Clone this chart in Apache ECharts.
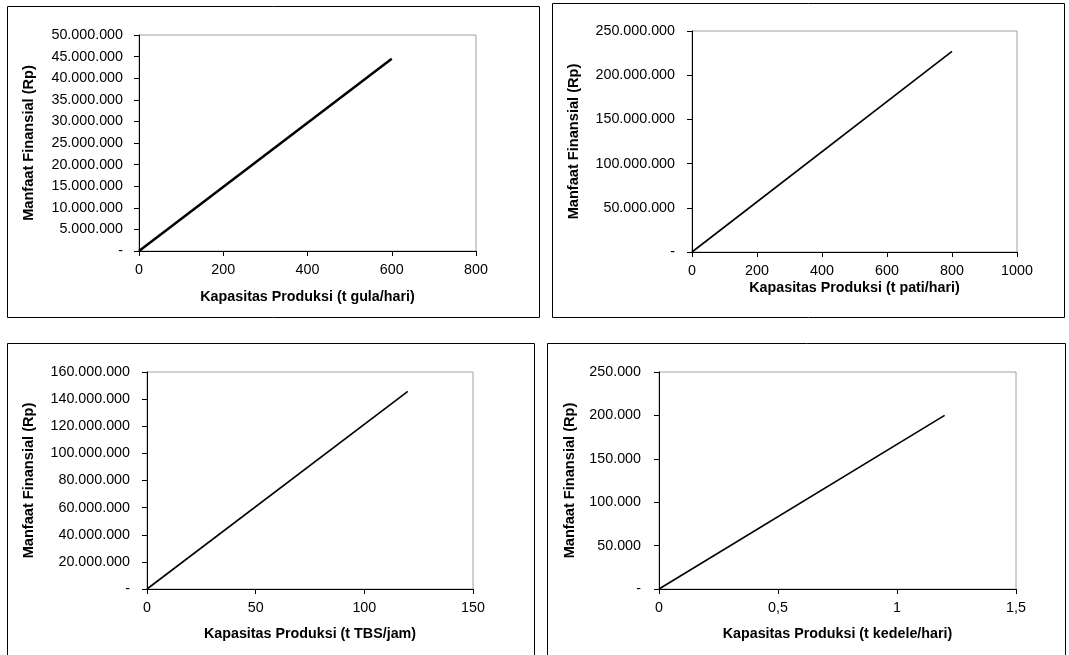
<!DOCTYPE html>
<html>
<head>
<meta charset="utf-8">
<script src="https://cdn.jsdelivr.net/npm/echarts@6/dist/echarts.min.js"></script>
<style>
html,body{margin:0;padding:0;background:#fff;}
#c{width:1069px;height:655px;}
</style>
</head>
<body>
<div id="c"></div>
<script>
// Data
const titleY = 'Manfaat Finansial (Rp)';
const xTitles = ['Kapasitas Produksi (t gula/hari)', 'Kapasitas Produksi (t pati/hari)', 'Kapasitas Produksi (t TBS/jam)', 'Kapasitas Produksi (t kedele/hari)'];
const gulaX = [0, 600];
const gulaY = [0, 44500000];
const patiX = [0, 800];
const patiY = [0, 227000000];
const tbsX = [0, 120];
const tbsY = [0, 145700000];
const kedeleX = [0, 1.2];
const kedeleY = [0, 200000];
const xMax = [800, 1000, 150, 1.5];
const xInterval = [200, 200, 50, 0.5];
const yMax = [50000000, 250000000, 160000000, 250000];
const yInterval = [5000000, 50000000, 20000000, 50000];

const seriesX = [gulaX, patiX, tbsX, kedeleX];
const seriesY = [gulaY, patiY, tbsY, kedeleY];

// Layout (pixels)
const grids = [
  {left: 139, top: 35, width: 337, height: 216},
  {left: 692, top: 31, width: 325, height: 221},
  {left: 147, top: 372, width: 326, height: 217},
  {left: 659, top: 372, width: 357, height: 217}
];
const yNameGap = [103, 111, 111, 82];
const xNameGap = [39, 29, 38, 38];
const yLabelMargin = [16, 17, 17, 18];
const lineW = [2.5, 1.6, 1.6, 1.6];
const boxes = [
  {x: 7.5, y: 6.5, w: 532, h: 311},
  {x: 552.5, y: 3.5, w: 512, h: 314},
  {x: 7.5, y: 343.5, w: 527, h: 320},
  {x: 547.5, y: 343.5, w: 518, h: 320}
];

const FONT = '"Liberation Sans", Arial, sans-serif';

function fmtY(v) {
  if (v === 0) return '-';
  return String(Math.round(v)).replace(/\B(?=(\d{3})+(?!\d))/g, '.');
}
function fmtX(v) {
  return String(v).replace('.', ',');
}

const option = {
  animation: false,
  backgroundColor: '#fff',
  graphic: boxes.map(b => ({
    type: 'rect', silent: true, z: 0,
    shape: {x: b.x, y: b.y, width: b.w, height: b.h},
    style: {fill: 'none', stroke: '#000', lineWidth: 1}
  })),
  grid: grids.map(g => Object.assign({
    show: true, borderColor: '#a0a0a0', borderWidth: 1, backgroundColor: 'transparent', containLabel: false
  }, g)),
  xAxis: grids.map((g, i) => ({
    type: 'value', gridIndex: i, min: 0, max: xMax[i], interval: xInterval[i],
    name: xTitles[i], nameLocation: 'middle', nameGap: xNameGap[i],
    nameTextStyle: {fontFamily: FONT, fontWeight: 'bold', fontSize: 14.3, color: '#000'},
    axisLine: {show: true, onZero: false, lineStyle: {color: '#000', width: 1}},
    axisTick: {show: true, inside: false, length: 5, lineStyle: {color: '#000'}},
    axisLabel: {fontFamily: FONT, fontSize: 14.3, color: '#000', margin: 12, formatter: fmtX},
    splitLine: {show: false}
  })),
  yAxis: grids.map((g, i) => ({
    type: 'value', gridIndex: i, min: 0, max: yMax[i], interval: yInterval[i],
    name: titleY, nameLocation: 'middle', nameGap: yNameGap[i], nameRotate: 90,
    nameTextStyle: {fontFamily: FONT, fontWeight: 'bold', fontSize: 14.6, color: '#000'},
    axisLine: {show: true, onZero: false, lineStyle: {color: '#000', width: 1}},
    axisTick: {show: true, inside: false, length: 5, lineStyle: {color: '#000'}},
    axisLabel: {fontFamily: FONT, fontSize: 14.3, color: '#000', margin: yLabelMargin[i], formatter: fmtY},
    splitLine: {show: false}
  })),
  series: seriesX.map((xs, i) => ({
    type: 'line', xAxisIndex: i, yAxisIndex: i,
    data: xs.map((x, j) => [x, seriesY[i][j]]),
    showSymbol: false, symbol: 'none',
    lineStyle: {color: '#000', width: lineW[i]},
    z: 3
  }))
};

const chart = echarts.init(document.getElementById('c'), null, {renderer: 'canvas'});
chart.setOption(option);
</script>
</body>
</html>
